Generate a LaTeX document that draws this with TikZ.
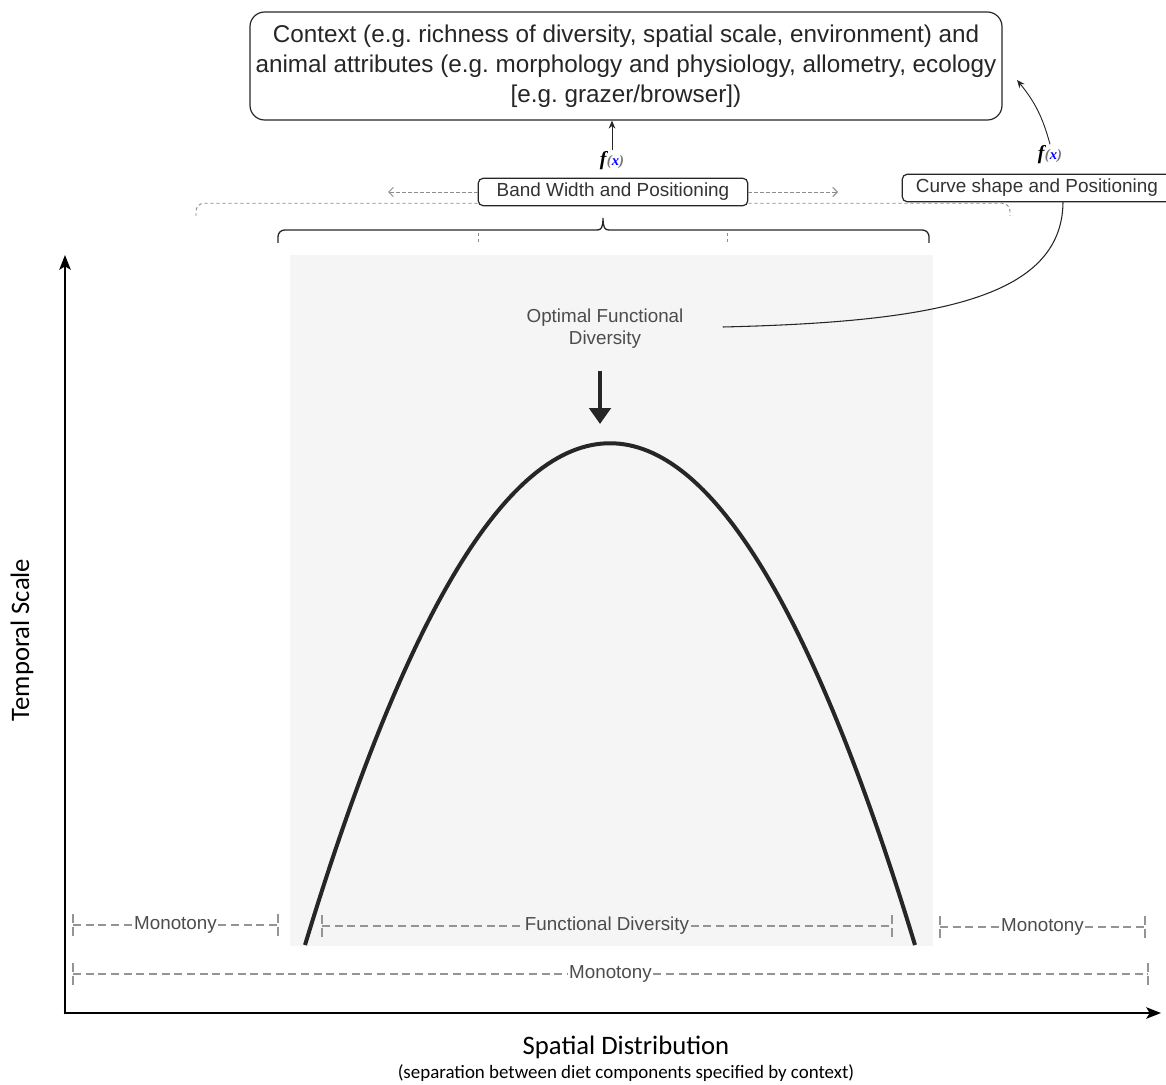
\documentclass[tikz,border=0pt]{standalone}
\usepackage{fontspec}
\setmainfont{Liberation Sans}
\newfontfamily\calfont{Carlito}
\newfontfamily\fxfont{Liberation Serif}
\usepackage{tikz}
\usetikzlibrary{arrows.meta,positioning,calc}
\frenchspacing
\newcommand{\fofx}{{\fxfont\fontsize{15}{15}\selectfont\bfseries\itshape f\kern0.3pt\fontsize{11}{11}\selectfont{\color{black!55}(}{\color{blue}x}{\color{black!55})}}}

\begin{document}
\begin{tikzpicture}[x=0.75pt, y=-0.75pt,
  bigbox/.style={draw=black!85, line width=0.9pt, rounded corners=11pt, minimum width=564pt,
                 minimum height=81pt, inner sep=0pt, align=center, text=black!85,
                 font=\fontsize{18.2}{22.5}\selectfont},
  smallbox/.style={draw=black!85, line width=0.9pt, rounded corners=3.5pt, fill=white,
                   minimum width=202pt, minimum height=20.5pt, inner sep=0pt,
                   text=black!80, font=\fontsize{14.2}{16}\selectfont},
  lab/.style={text=black!70, align=center, font=\fontsize{14.1}{16.5}\selectfont},
  barlab/.style={text=black!70, inner sep=1pt, font=\fontsize{14.1}{16}\selectfont},
  axlab/.style={font=\calfont\fontsize{20}{22}\selectfont},
  fx/.style={inner sep=1pt},
  arr/.style={-{Stealth[length=6pt, width=5pt]}, line width=0.7pt, black!85},
  dasharr/.style={-{Straight Barb[length=3.5pt, width=7pt]}, black!45, line width=0.7pt,
                  dash pattern=on 2.5pt off 2pt},
  thindash/.style={black!45, line width=0.7pt, dash pattern=on 2.5pt off 2pt},
  brace/.style={black!85, line width=1pt},
  axis/.style={-{Stealth[length=11pt, width=8.5pt, inset=2.5pt]}, line width=1.8pt},
  bigarr/.style={-{Triangle[length=12pt, width=16pt]}, line width=3pt, black!85},
  curve/.style={line width=3pt, black!85},
  bar/.style={black!42, line width=1.3pt, dash pattern=on 6pt off 3.5pt},
  tick/.style={black!42, line width=1.3pt, dash pattern=on 6.5pt off 3.5pt}]
\useasboundingbox (0,0) rectangle (1166,1084);

% shaded band behind the curve
\fill[black!4] (290,255) rectangle (933,946);

% top: context box and the two f(x) links
\node[bigbox] (ctx) at (626,66) {Context (e.g. richness of diversity, spatial scale, environment) and\\animal attributes (e.g. morphology and physiology, allometry, ecology\\{[e.g. grazer/browser])}};
\node[fx] (fxa) at (612,161) {\fofx};
\node[smallbox] (band) at (613,192) {Band Width and Positioning};
\node[smallbox] (cshape) at (1037,188) {Curve shape and Positioning};
\node[fx] (fxb) at (1050,155) {\fofx};
\coordinate (ctxr) at (1017,80);
\draw[arr] (fxa.north) -- (fxa.north |- ctx.south);
\draw[arr] (fxb.north) to[bend right=12] (ctxr);

% band width arrows and brackets
\coordinate (bl) at (388,192);
\coordinate (br) at (838,192);
\draw[dasharr] (band.west) -- (bl);
\draw[dasharr] (band.east) -- (br);
\coordinate (gl) at (196,216);
\coordinate (gr) at (1010,216);
\draw[thindash, rounded corners=6pt] ([yshift=2.25pt]band.south west) -| (gl);
\draw[thindash, rounded corners=6pt] ([yshift=2.25pt]band.south east) -| (gr);
\draw[brace, rounded corners=5pt] (278,243) |- (597,230);
\draw[brace, rounded corners=5pt] (929,243) |- (609,230);
\draw[brace] (597,230) .. controls (601,230) and (603,228) .. (603,218)
  .. controls (603,228) and (605,230) .. (609,230);
\foreach \xx in {478,727} \draw[thindash] (\xx,233) -- (\xx,244);

% axes
\coordinate (o) at (65,1013);
\coordinate (ytop) at (65,255);
\coordinate (xend) at (1161,1013);
\draw[axis] ([yshift=-1pt]o) -- (ytop);
\draw[axis] ([xshift=-1pt]o) -- (xend);
\node[axlab, rotate=90] (ylab) at (22,640) {Temporal Scale};
\node[axlab] (xlab) at (626,1047) {Spatial Distribution};
\node[font=\calfont\fontsize{14.2}{16}\selectfont] (xsub) at (626,1073) {(separation between diet components specified by context)};

% optimum and curve
\node[lab] (opt) at (605,329) {Optimal Functional\\Diversity};
\coordinate (pk) at (600,424);
\draw[bigarr] ([xshift=-3.75pt, yshift=-13pt]opt.south) -- (pk);
\draw[curve] (305,945) .. controls (508,276) and (712,276) .. (915,945);
\draw[line width=0.8pt, black!85] ([xshift=26pt, yshift=1.5pt]opt.east) .. controls (930,322) and (1062,300) .. ([xshift=19.5pt]cshape.south);

% dashed ranges at the bottom
\foreach \nm/\xa/\xb/\yy/\txt in {ml/73/278/925/Monotony, fd/322/892/926/Functional Diversity,
                                  mr/940/1145/927/Monotony, mb/73/1148/974/Monotony} {
  \coordinate (\nm a) at (\xa,\yy);
  \coordinate (\nm b) at (\xb,\yy);
  \node[barlab] (\nm) at ($(\nm a)!0.5!(\nm b)$) {\txt};
  \draw[bar] (\nm a) -- (\nm.west);
  \draw[bar] (\nm.east) -- (\nm b);
  \draw[tick] ([yshift=8.25pt]\nm a) -- ([yshift=-8.25pt]\nm a);
  \draw[tick] ([yshift=8.25pt]\nm b) -- ([yshift=-8.25pt]\nm b);
}
\end{tikzpicture}
\end{document}
